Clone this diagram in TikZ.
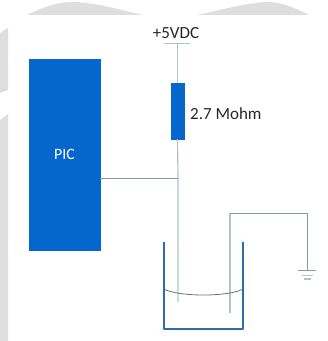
\documentclass[tikz,border=0pt]{standalone}
\usepackage{fontspec}
\setmainfont{Carlito}
\usetikzlibrary{calc}
\definecolor{chipblue}{HTML}{0566CC}
\definecolor{cupblue}{HTML}{2C6DB2}
\definecolor{wiregray}{HTML}{B4C2CC}
\definecolor{wiredark}{HTML}{8499AA}
\definecolor{bggray}{HTML}{DEDEDE}
\begin{document}
\begin{tikzpicture}[x=0.03cm,y=-0.03cm,
  wire/.style = {draw=wiregray,line width=1pt},
  thinwire/.style = {draw=wiredark,line width=0.6pt},
  block/.style = {draw=chipblue,fill=chipblue,inner sep=0pt,line width=0.3pt},
  label/.style = {inner sep=0pt,text=black!85,font=\fontsize{14.5}{16}\selectfont}]
   \useasboundingbox (0,0) rectangle (327,341);
   % grey scraps behind the drawing
   \fill[bggray] (27,15) .. controls (45,6) and (60,2) .. (72,2)
      .. controls (95,2) and (120,10) .. (143,15) -- cycle;
   \fill[bggray] (197,15) .. controls (225,9) and (250,2) .. (270,2)
      .. controls (285,3) and (297,9) .. (309,15) -- cycle;
   \fill[bggray] (0,33) -- (8,28) -- (8,90) -- (0,93) -- cycle;
   \fill[bggray] (0,120) -- (8,114) -- (8,341) -- (0,341) -- cycle;
   % parts
   \node[block,minimum width=2.13cm,minimum height=5.73cm,text=white,
         font=\fontsize{13.5}{15}\selectfont] (pic) at (64.5,154.5) {PIC};
   \node[block,minimum width=0.39cm,minimum height=1.68cm] (res) at (177.5,111) {};
   \node[label,anchor=base] (vcc) at (176,38.5) {+5VDC};
   \node[label,anchor=west] (val) at (190,113.5) {2.7 Mohm};
   \coordinate (bar) at (176.5,43.5);
   \coordinate (node) at (178,178);
   \coordinate (probea) at (178,302);
   \coordinate (probeb) at (230,313);
   \coordinate (corner) at (230,213);
   \coordinate (gnd) at (307,270);
   % supply
   \draw[wire] ($(bar)+(-13,0)$) -- ($(bar)+(13,0)$);
   \draw[wire] (bar) -- (bar -| res.north) -- (res.north);
   \draw[wire] (res.south) -- (node) -- (probea);
   \draw[thinwire] (pic.east |- node) -- (node);
   % second probe and earth
   \draw[wire] (probeb) -- (corner);
   \draw[thinwire] (corner) -- (corner -| gnd) -- (gnd);
   \draw[thinwire] ($(gnd)+(-9,0)$) -- ($(gnd)+(9,0)$);
   \draw[wire] ($(gnd)+(-5.5,5.5)$) -- ($(gnd)+(5.5,5.5)$);
   \draw[wire] ($(gnd)+(-3.5,9)$) -- ($(gnd)+(3.5,9)$);
   % cup
   \draw[draw=cupblue,line width=1.5pt,line join=round]
      (164,242) -- (164,329) -- (243,329) -- (243,242);
   \draw[draw=black!55,line width=0.7pt]
      (164,289) .. controls (178,297) and (229,297) .. (243,289);
\end{tikzpicture}
\end{document}
